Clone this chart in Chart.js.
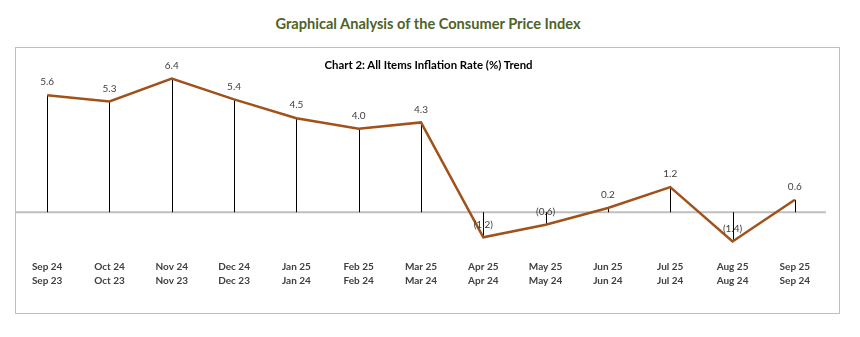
<!DOCTYPE html>
<html>
<head>
<meta charset="utf-8">
<script src="https://cdn.jsdelivr.net/npm/chart.js@4"></script>
<style>
  body { margin: 0; background: #fff; font-family: Lato, "Open Sans", sans-serif; }
  #mainTitle {
    position: absolute; left: 0; width: 856px; top: 15px;
    text-align: center; font-weight: bold; font-size: 14.6px; color: #4F6228;
  }
  #box {
    position: absolute; left: 15px; top: 47px; width: 823px; height: 265px;
    border: 1px solid #BFBFBF;
  }
  #subTitle {
    position: absolute; left: 0; width: 825px; top: 10px;
    text-align: center; font-weight: bold; font-size: 11.4px; color: #000;
  }
  canvas { position: absolute; left: 0; top: 0; }
</style>
</head>
<body>
<div id="mainTitle">Graphical Analysis of the Consumer Price Index</div>
<div id="box">
  <canvas id="myChart" width="823" height="265"></canvas>
  <div id="subTitle">Chart 2: All Items Inflation Rate (%) Trend</div>
</div>
<script>
  // Months compared (current period vs same month a year earlier)
  const currentMonths = ["Sep 24", "Oct 24", "Nov 24", "Dec 24", "Jan 25", "Feb 25", "Mar 25",
    "Apr 25", "May 25", "Jun 25", "Jul 25", "Aug 25", "Sep 25"];
  const priorMonths = ["Sep 23", "Oct 23", "Nov 23", "Dec 23", "Jan 24", "Feb 24", "Mar 24",
    "Apr 24", "May 24", "Jun 24", "Jul 24", "Aug 24", "Sep 24"];
  const inflationRate = [5.6, 5.3, 6.4, 5.4, 4.5, 4.0, 4.3, -1.2, -0.6, 0.2, 1.2, -1.4, 0.6];

  const labels = currentMonths.map((m, i) => [m, priorMonths[i]]);

  function fmt(v) {
    return v < 0 ? "(" + Math.abs(v).toFixed(1) + ")" : v.toFixed(1);
  }

  // Zero line, drop lines and value labels like the Excel original
  const dropLines = {
    id: "dropLines",
    beforeDatasetsDraw(chart) {
      const { ctx, chartArea, scales } = chart;
      const zeroY = scales.y.getPixelForValue(0);
      ctx.save();
      ctx.strokeStyle = "#BFBFBF";
      ctx.lineWidth = 2;
      ctx.beginPath();
      ctx.moveTo(chartArea.left, zeroY);
      ctx.lineTo(chartArea.right, zeroY);
      ctx.stroke();
      ctx.strokeStyle = "#000";
      ctx.lineWidth = 1;
      chart.getDatasetMeta(0).data.forEach((pt) => {
        const x = Math.round(pt.x) + 0.5;
        ctx.beginPath();
        ctx.moveTo(x, pt.y);
        ctx.lineTo(x, zeroY);
        ctx.stroke();
      });
      ctx.restore();
    },
    afterDatasetsDraw(chart) {
      const { ctx } = chart;
      ctx.save();
      ctx.font = "10px Lato, 'Open Sans', sans-serif";
      ctx.fillStyle = "#404040";
      ctx.textAlign = "center";
      ctx.textBaseline = "middle";
      chart.getDatasetMeta(0).data.forEach((pt, i) => {
        ctx.fillText(fmt(inflationRate[i]), pt.x, pt.y - 13);
      });
      ctx.restore();
    }
  };

  const ctx = document.getElementById("myChart").getContext("2d");
  new Chart(ctx, {
    type: "line",
    data: {
      labels: labels,
      datasets: [
        {
          label: "All Items Inflation Rate (%)",
          data: inflationRate,
          borderColor: "#A0521A",
          borderWidth: 2.5,
          pointRadius: 0,
          tension: 0,
          fill: false,
        },
      ],
    },
    options: {
      responsive: false,
      animation: false,
      layout: { padding: { left: 0, right: 13, top: 18, bottom: 19 } },
      plugins: {
        legend: { display: false },
        tooltip: { enabled: false },
      },
      scales: {
        x: {
          offset: true,
          grid: { display: false, drawTicks: false },
          border: { display: false },
          ticks: {
            padding: 6,
            autoSkip: false,
            maxRotation: 0,
            color: "#404040",
            font: { family: "Lato, 'Open Sans', sans-serif", size: 10, weight: "bold", lineHeight: 1.4 },
          },
        },
        y: { display: false, min: -2, max: 7 },
      },
    },
    plugins: [dropLines],
  });
</script>
</body>
</html>
